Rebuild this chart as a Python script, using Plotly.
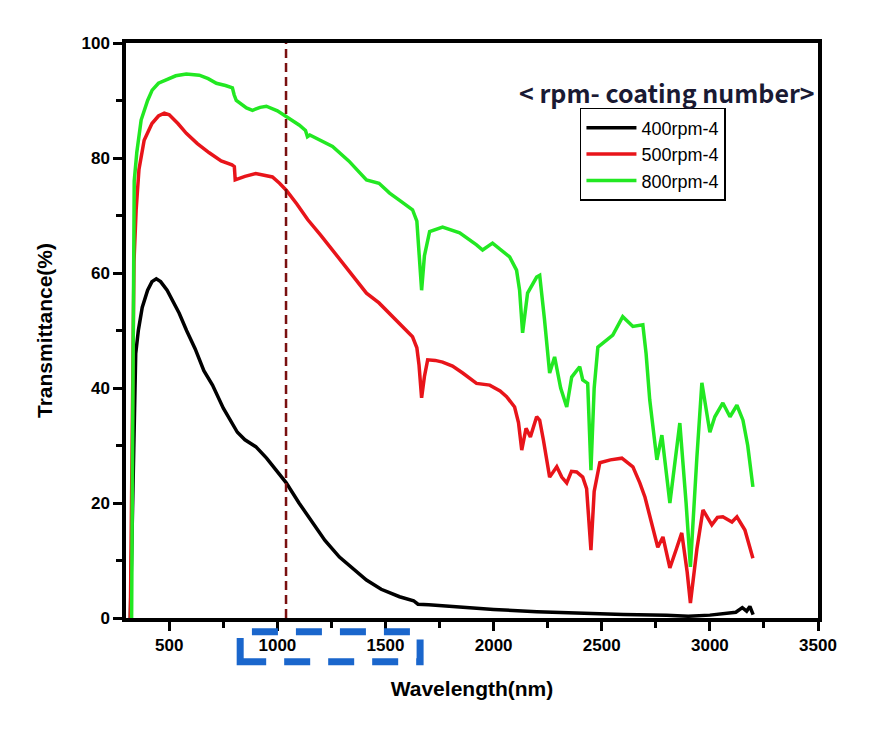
import plotly.graph_objects as go

# ---------------- data ----------------
wl_black = [320, 330, 338, 345, 357, 375, 400, 420, 440, 460, 490, 520, 546, 580, 620, 660,
            700, 750, 792, 815, 850, 900, 950, 1000, 1041, 1100, 1162, 1220, 1287, 1350, 1412,
            1480, 1565, 1630, 1650, 1700, 1800, 1900, 2000, 2200, 2400, 2600, 2800, 2900, 3000,
            3080, 3120, 3150, 3170, 3185, 3200]
t_black = [0, 20, 40, 46, 50, 54, 57, 58.5, 59, 58.5, 57, 55, 53, 50, 46.8, 43,
           40.5, 36.5, 33.9, 32.3, 31, 29.8, 27.8, 25.5, 23.5, 20, 16.5, 13.5, 10.6, 8.5, 6.6,
           5, 3.7, 3.0, 2.4, 2.3, 2.0, 1.7, 1.5, 1.1, 0.8, 0.6, 0.5, 0.3, 0.5,
           0.8, 1.0, 1.8, 1.2, 2.0, 0.6]

wl_red = [320, 330, 337, 347, 360, 384, 420, 450, 477, 500, 540, 579, 630, 685, 740, 790, 801,
          805, 850, 900, 950, 977, 1010, 1041, 1090, 1130, 1140, 1200, 1255, 1330, 1412, 1470,
          1519, 1570, 1625, 1645, 1655, 1667, 1680, 1695, 1730, 1764, 1810, 1857, 1921, 1982,
          2030, 2060, 2097, 2115, 2130, 2150, 2170, 2199, 2213, 2230, 2259, 2292, 2315, 2338,
          2360, 2384, 2412, 2430, 2450, 2465, 2491, 2540, 2593, 2644, 2676, 2700, 2722, 2759,
          2783, 2815, 2845, 2870, 2895, 2910, 2940, 2968, 3009, 3035, 3060, 3102, 3125, 3162, 3199]
t_red = [0, 30, 62, 71, 78, 83.1, 86, 87.3, 87.8, 87.5, 86, 84.3, 82.5, 80.9, 79.5, 78.8, 78.5,
         76.2, 76.8, 77.3, 77, 76.7, 75.6, 74.4, 72, 69.9, 69.3, 66.6, 64, 60.4, 56.5, 54.8,
         53, 51, 48.9, 47, 44, 38.3, 42, 44.9, 44.8, 44.5, 43.8, 42.6, 40.8, 40.5,
         39.5, 38.5, 36.7, 34, 29.2, 33, 31.5, 35, 34.4, 31, 24.5, 26.3, 24.5, 23.5,
         25.5, 25.4, 24.5, 22.5, 11.8, 22, 27, 27.5, 27.8, 26.3, 23.5, 21, 17.6, 12.3,
         14.1, 8.7, 12, 14.8, 8, 2.6, 12, 18.8, 16.2, 17.5, 17.6, 16.7, 17.6, 15.3, 10.4]

wl_green = [320, 326, 332, 338, 350, 370, 400, 421, 450, 486, 530, 579, 639, 680, 718, 760, 792,
            800, 810, 857, 885, 920, 949, 1000, 1041, 1102, 1130, 1139, 1150, 1200, 1255, 1330,
            1412, 1470, 1519, 1570, 1625, 1645, 1655, 1667, 1680, 1704, 1764, 1843, 1921, 1949,
            1995, 2074, 2106, 2120, 2134, 2157, 2199, 2213, 2235, 2259, 2282, 2310, 2338, 2361,
            2398, 2412, 2435, 2450, 2465, 2482, 2551, 2597, 2644, 2690, 2705, 2722, 2755, 2778,
            2815, 2861, 2890, 2910, 2940, 2963, 3000, 3023, 3060, 3093, 3125, 3153, 3175, 3199]
t_green = [0, 0, 40, 76, 81, 86.6, 90, 91.8, 93, 93.6, 94.3, 94.6, 94.4, 93.8, 93, 92.6, 92.2,
           91, 90, 88.7, 88.3, 88.8, 89, 88.2, 87.2, 85.7, 84.8, 83.7, 84, 83, 82, 79.5,
           76.2, 75.6, 73.9, 72.5, 71, 69, 63, 57, 63, 67.2, 68, 67, 64.9, 64,
           65.2, 62.8, 60.5, 57, 49.6, 56.5, 59.3, 59.6, 52, 42.6, 45.4, 40, 36.7, 41.9,
           43.7, 41.4, 40.8, 25.7, 40, 47.1, 49.2, 52.4, 50.7, 51, 46, 37.9, 27.5, 31.8,
           20, 33.9, 20, 8.9, 28, 40.9, 32.3, 35, 37.4, 35, 37, 34.4, 30, 22.8]

series_names = ["400rpm-4", "500rpm-4", "800rpm-4"]
series_colors = ["#000000", "#e8141a", "#22e822"]
marker_wavelength = 1040
x_ticks = [500, 1000, 1500, 2000, 2500, 3000, 3500]
y_ticks = [0, 20, 40, 60, 80, 100]

# ---------------- figure ----------------
FONT = "Liberation Sans, Arial, sans-serif"
fig = go.Figure()
for wl, t, name, col in zip([wl_black, wl_red, wl_green], [t_black, t_red, t_green],
                            series_names, series_colors):
    fig.add_trace(go.Scatter(x=wl, y=t, mode="lines", name=name,
                             line=dict(color=col, width=3.5)))

# vertical dashed reference line
fig.add_shape(type="line", xref="x", yref="paper", x0=marker_wavelength, x1=marker_wavelength,
              y0=0, y1=1, line=dict(color="#7a1010", width=2.5, dash="9px,5px"), layer="above")

# blue dashed box under the axis
fig.add_shape(type="rect", xref="paper", yref="paper", x0=0.165, x1=0.425, y0=-0.076, y1=-0.024,
              line=dict(color="#1a66cc", width=7, dash="26px,18px"))

fig.add_annotation(text="< rpm- coating number>", xref="paper", yref="paper",
                   x=0.999, y=0.915, xanchor="right", yanchor="middle", showarrow=False,
                   font=dict(family="Noto Sans CJK KR", size=25, color="#1a1a33", weight="bold"))

axis_common = dict(showline=True, linecolor="black", linewidth=3.5, mirror=True,
                   ticks="outside", tickcolor="black", tickwidth=3, ticklen=9,
                   showgrid=False, zeroline=False,
                   tickfont=dict(family=FONT, size=17, color="black", weight="bold"))

fig.update_xaxes(range=[300, 3500], tickvals=x_ticks,
                 minor=dict(dtick=250, tick0=250, ticks="outside", ticklen=6, tickwidth=3,
                            tickcolor="black"),
                 title=dict(text="Wavelength(nm)", standoff=28,
                            font=dict(family=FONT, size=21, color="black", weight="bold")),
                 **axis_common)
fig.update_yaxes(range=[0, 100], tickvals=y_ticks,
                 minor=dict(dtick=10, tick0=0, ticks="outside", ticklen=6, tickwidth=3,
                            tickcolor="black"),
                 title=dict(text="Transmittance(%)", standoff=24,
                            font=dict(family=FONT, size=21, color="black", weight="bold")),
                 **axis_common)

# page body has an 8px margin -> shift the plot area up/left by 8px
fig.update_layout(
    width=886, height=735,
    margin=dict(l=118, r=76, t=35, b=125),
    paper_bgcolor="white", plot_bgcolor="white",
    showlegend=True,
    legend=dict(x=0.656, y=0.887, xanchor="left", yanchor="top",
                bordercolor="black", borderwidth=1.5, bgcolor="white",
                font=dict(family=FONT, size=18, color="black"),
                itemwidth=50, tracegroupgap=0),
)

fig.write_html("out.html")
